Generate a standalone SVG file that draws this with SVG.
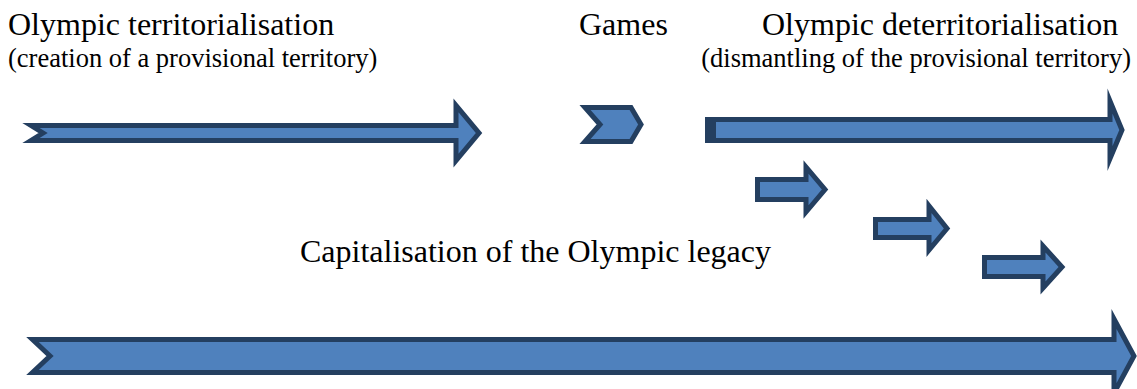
<svg xmlns="http://www.w3.org/2000/svg" width="1137" height="389" viewBox="0 0 1137 389">
<style>
.arr{fill:#4F81BD;stroke:#243F60;stroke-width:5;stroke-linejoin:miter;stroke-miterlimit:10}
.dark{fill:#243F60}
text{font-family:'Liberation Serif','Times New Roman',serif;fill:#000}
.h{font-size:32px}
.s{font-size:26.5px}
</style>
<rect width="1137" height="389" fill="#fff"/>
<g id="connectors">
<g id="territorialisation-arrow"><polygon class="arr" points="31,125.5 456,125.5 456,105.5 479,133 456,160.5 456,140.5 31,140.5 43,133"/></g>
<g id="games-chevron"><polygon class="arr" points="585,107.5 631,107.5 641,124.5 631,141.5 585,141.5 600,124.5"/></g>
<g id="deterritorialisation-arrow"><polygon class="arr" points="707.5,119.5 1110,119.5 1110,101 1122,130 1110,158.5 1110,140.5 707.5,140.5"/><rect class="dark" x="705" y="117" width="11" height="26"/></g>
<g id="legacy-arrow-1"><polygon class="arr" points="757.5,179.5 806,179.5 806,167 825,189.5 806,212 806,199.5 757.5,199.5"/></g>
<g id="legacy-arrow-2"><polygon class="arr" points="875.5,219.5 929,219.5 929,206 947,228.5 929,250 929,237.5 875.5,237.5"/></g>
<g id="legacy-arrow-3"><polygon class="arr" points="984.5,257.5 1043,257.5 1043,246 1062,267 1043,288 1043,276.5 984.5,276.5"/></g>
<g id="capitalisation-arrow"><polygon class="arr" points="32.5,339.5 1114,339.5 1114,319 1134,356 1114,393 1114,372.5 32.5,372.5 50,356"/></g>
</g>
<g id="label-territorialisation"><text class="h" x="8" y="35">Olympic territorialisation</text><text class="s" x="8" y="67">(creation of a provisional territory)</text></g>
<g id="label-games"><text class="h" x="579" y="35">Games</text></g>
<g id="label-deterritorialisation"><text class="h" x="762" y="35">Olympic deterritorialisation</text><text class="s" x="1131" y="67" text-anchor="end">(dismantling of the provisional territory)</text></g>
<g id="label-capitalisation"><text class="h" x="300" y="262">Capitalisation of the Olympic legacy</text></g>
</svg>
